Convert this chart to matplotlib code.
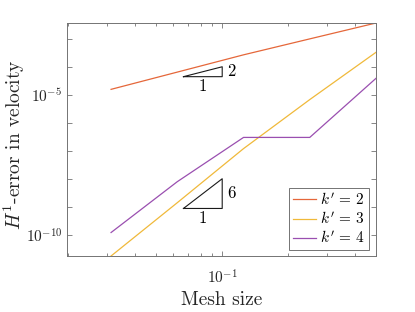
import matplotlib
matplotlib.use("Agg")
import matplotlib.pyplot as plt
from matplotlib.ticker import FixedLocator, FuncFormatter, NullLocator
import numpy as np

plt.rcParams['font.family'] = 'cmr10'
plt.rcParams['mathtext.fontset'] = 'cm'
plt.rcParams['axes.unicode_minus'] = False
plt.rcParams['axes.formatter.use_mathtext'] = True

# mesh sizes and H1 velocity errors
mesh_size = [1 / 32, 1 / 16, 1 / 8, 1 / 4, 1 / 2]
err_k2 = [1.56e-5, 6.4e-5, 2.63e-4, 9.7e-4, 3.56e-3]
err_k3 = [1.86e-11, 1.46e-9, 1.22e-7, 6.75e-6, 3.23e-4]
err_k4 = [1.27e-10, 8.15e-9, 3.05e-7, 3.05e-7, 3.84e-5]
labels = [r"$k'\,=\,2$", r"$k'\,=\,3$", r"$k'\,=\,4$"]
colors = ["#e5673a", "#f0b93a", "#9a4fb0"]

# slope triangles
tri_x = [0.1 / 1.5, 0.1]
tri1_y0, tri1_slope = 4.4e-5, 2
tri2_y0, tri2_slope = 9.1e-10, 6

fig = plt.figure(figsize=(4.15, 3.12), dpi=100)
ax = fig.add_axes([0.1614, 0.1795, 0.7446, 0.7468])

for err, lab, c in zip([err_k2, err_k3, err_k4], labels, colors):
    ax.loglog(mesh_size, err, color=c, lw=0.9, label=lab)


def slope_triangle(y0, slope, txt):
    x0, x1 = tri_x
    y1 = y0 * (x1 / x0) ** slope
    ax.plot([x0, x1, x1, x0], [y0, y0, y1, y0], color='0.1', lw=0.8)
    ax.annotate(txt, xy=(x1, np.sqrt(y0 * y1)), xytext=(3.5, 0), textcoords='offset points',
                ha='left', va='center', fontsize=12)
    ax.annotate('1', xy=(np.sqrt(x0 * x1), y0), xytext=(0, -7), textcoords='offset points',
                ha='center', va='center', fontsize=12)


slope_triangle(tri1_y0, tri1_slope, str(tri1_slope))
slope_triangle(tri2_y0, tri2_slope, str(tri2_slope))

ax.set_xlim(0.0197, 0.5)
all_err = err_k2 + err_k3 + err_k4
ax.set_ylim(min(all_err), max(all_err))

ax.yaxis.set_major_locator(FixedLocator([10.0 ** e for e in range(-11, -1)]))
ax.yaxis.set_minor_locator(NullLocator())


def ylab(v, pos):
    e = int(round(np.log10(v)))
    return r'$10^{%d}$' % e if e % 5 == 0 else ''


ax.yaxis.set_major_formatter(FuncFormatter(ylab))
ax.xaxis.set_major_locator(FixedLocator([0.1]))
ax.xaxis.set_major_formatter(FuncFormatter(lambda v, p: r'$10^{-1}$'))
ax.xaxis.set_minor_locator(FixedLocator([0.02 + 0.01 * i for i in range(8)] + [0.2, 0.3, 0.4, 0.5]))

ax.tick_params(which='both', direction='in', top=True, right=True, colors='0.45',
               labelcolor='0.15', labelsize=11, width=0.6)
ax.tick_params(which='major', length=3.5)
ax.tick_params(which='minor', length=2.5)
ax.tick_params(axis='x', which='major', pad=9)
for sp in ax.spines.values():
    sp.set_color('0.45')
    sp.set_linewidth(0.7)

ax.set_xlabel('Mesh size', fontsize=14, color='0.15', labelpad=3)
ax.set_ylabel('$H^1$-error in velocity', fontsize=14, color='0.15')
ax.yaxis.set_label_coords(-0.13, 0.48)

leg = ax.legend(loc='lower right', bbox_to_anchor=(0.978, 0.026), borderaxespad=0,
                fontsize=11, fancybox=False, edgecolor='0.45', framealpha=1,
                handlelength=1.5, handletextpad=0.3, borderpad=0.25, labelspacing=0.2)
leg.get_frame().set_linewidth(0.7)

fig.savefig('out.png', dpi=100)
